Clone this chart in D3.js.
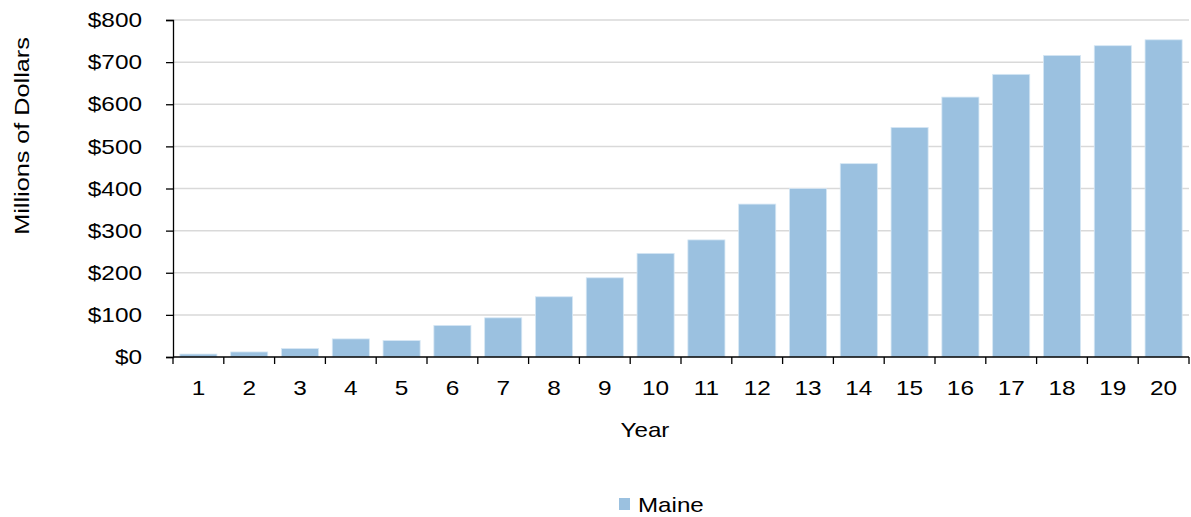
<!DOCTYPE html>
<html><head><meta charset="utf-8">
<script src="https://cdn.jsdelivr.net/npm/d3@7"></script>
<style>body{margin:0;background:#fff}svg{display:block;font-family:"Liberation Sans",Arial,sans-serif}</style>
</head><body><svg id="c" width="1191" height="517"></svg>
<script>
const years = ["1","2","3","4","5","6","7","8","9","10","11","12","13","14","15","16","17","18","19","20"];
const maine = [7,12,20,43,39,75,93,143,188,246,278,363,400,459,545,617,671,716,739,753];
const yTicks = [0,100,200,300,400,500,600,700,800];
const seriesName = "Maine";

(function () {
const svg = d3.select("#c");
const pLeft = 173, pRight = 1189, pTop = 20, pBottom = 357;
const FS = 21;
const x = d3.scaleBand().domain(years).range([pLeft, pRight]).paddingInner(0.27).paddingOuter(0.135);
const xb = d3.scaleBand().domain(years).range([pLeft, pRight]);
const y = d3.scaleLinear().domain([0, 800]).range([pBottom, pTop]);

function stretch(sel, k) {
  sel.each(function () {
    const len = this.getComputedTextLength();
    d3.select(this).attr("textLength", len * k).attr("lengthAdjust", "spacingAndGlyphs");
  });
}

// gridlines
svg.append("g").selectAll("line").data(yTicks.filter(d => d > 0)).join("line")
  .attr("x1", pLeft).attr("x2", pRight).attr("y1", d => y(d)).attr("y2", d => y(d))
  .attr("stroke", "#d9d9d9").attr("stroke-width", 1.5);

// bars
svg.append("g").selectAll("rect").data(maine).join("rect")
  .attr("x", (d, i) => x(years[i])).attr("width", x.bandwidth())
  .attr("y", d => y(d)).attr("height", d => y(0) - y(d))
  .attr("fill", "#9bc1e0").attr("stroke", "#d6e7f4").attr("stroke-width", 0.8);

// y axis
const ya = svg.append("g").attr("transform", `translate(${pLeft},0)`)
  .call(d3.axisLeft(y).tickValues(yTicks).tickSize(7).tickPadding(24).tickFormat(d => "$" + d));
ya.select(".domain").attr("stroke", "#000").attr("stroke-width", 1.3);
ya.selectAll(".tick line").attr("stroke", "#000").attr("stroke-width", 1.3);
ya.selectAll("text").attr("font-size", FS).attr("fill", "#000").attr("font-family", "Liberation Sans, Arial, sans-serif")
  .call(stretch, 1.16);

// x axis
const xa = svg.append("g").attr("transform", `translate(0,${pBottom})`)
  .call(d3.axisBottom(x).tickSize(0).tickPadding(23));
xa.select(".domain").attr("d", `M${pLeft},0H${pRight}`).attr("stroke", "#000").attr("stroke-width", 1.3);
xa.selectAll("text").attr("font-size", FS).attr("fill", "#000").attr("font-family", "Liberation Sans, Arial, sans-serif")
  .call(stretch, 1.16);
svg.append("g").selectAll("line").data(years.concat(["end"])).join("line")
  .attr("x1", (d, i) => i < years.length ? xb(d) : pRight)
  .attr("x2", (d, i) => i < years.length ? xb(d) : pRight)
  .attr("y1", pBottom).attr("y2", pBottom + 7).attr("stroke", "#000").attr("stroke-width", 1.3);

// axis titles
svg.append("text").attr("x", 645).attr("y", 437).attr("text-anchor", "middle")
  .attr("font-size", FS).attr("fill", "#000").text("Year").call(stretch, 1.15);
svg.append("text").attr("transform", `translate(29,136) rotate(-90)`)
  .attr("text-anchor", "middle").attr("font-size", FS).attr("fill", "#000").text("Millions of Dollars").call(stretch, 1.2);

// legend
svg.append("rect").attr("x", 619).attr("y", 498).attr("width", 11).attr("height", 12).attr("fill", "#9bc1e0");
svg.append("text").attr("x", 638).attr("y", 512).attr("font-size", FS).attr("fill", "#000").text(seriesName).call(stretch, 1.15);
})();
</script></body></html>
